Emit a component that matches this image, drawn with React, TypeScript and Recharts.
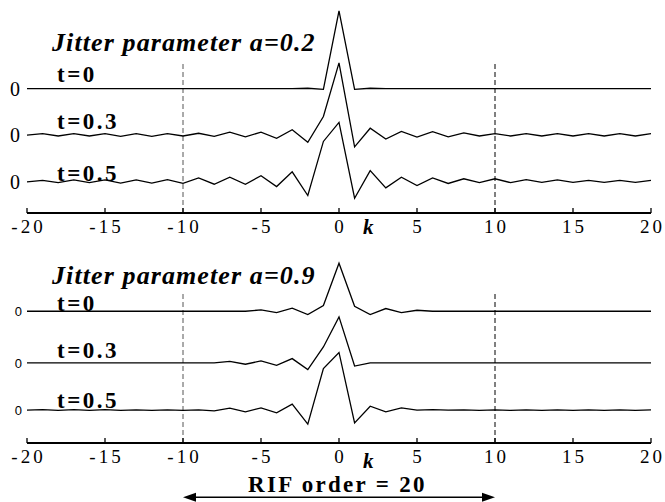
import { LineChart, Line, XAxis, YAxis, ReferenceLine } from 'recharts';

const ks = [-20, -19, -18, -17, -16, -15, -14, -13, -12, -11, -10, -9, -8, -7, -6, -5, -4, -3, -2, -1, 0,
  1, 2, 3, 4, 5, 6, 7, 8, 9, 10, 11, 12, 13, 14, 15, 16, 17, 18, 19, 20];
const xTicks = [-20, -15, -10, -5, 0, 5, 10, 15, 20];

// jitter a = 0.2
const a02t0 = [0, 0, 0, 0, 0, 0, 0, 0, 0, 0, 0, 0, 0, 0, 0, 0, 0, 0, 0.004, -0.01, 1.0,
  -0.01, 0.004, 0, 0, 0, 0, 0, 0, 0, 0, 0, 0, 0, 0, 0, 0, 0, 0, 0, 0];
const a02t03 = [0, 0.02, -0.01, 0.02, -0.01, 0.02, -0.015, 0.02, -0.015, 0.02, -0.01, 0.025, -0.015, 0.04, -0.02, 0.04, -0.04, 0.07, -0.09, 0.24, 0.93,
  -0.15, 0.09, -0.05, 0.05, -0.025, 0.045, -0.02, 0.03, -0.01, 0.02, -0.01, 0.02, -0.01, 0.02, -0.01, 0.02, -0.01, 0.02, -0.01, 0.02];
const a02t05 = [0, 0.02, -0.01, 0.025, -0.01, 0.025, -0.015, 0.025, -0.015, 0.03, -0.02, 0.05, -0.03, 0.06, -0.03, 0.08, -0.06, 0.13, -0.175, 0.52, 0.765,
  -0.21, 0.145, -0.077, 0.06, -0.047, 0.05, -0.02, 0.04, -0.01, 0.04, -0.01, 0.03, -0.005, 0.025, -0.005, 0.02, -0.005, 0.02, -0.005, 0.02];

// jitter a = 0.9
const a09t0 = [0, 0, 0, 0, 0, 0, 0, 0, 0, 0, 0, 0, 0, 0, 0, 0.017, -0.017, 0.039, -0.043, 0.074, 0.62,
  0.065, -0.043, 0.035, -0.017, 0.013, 0, 0, 0, 0, 0, 0, 0, 0, 0, 0, 0, 0, 0, 0, 0];
const a09t03 = [0, 0, 0, 0, 0, 0, 0, 0, 0, 0, 0, 0, 0, 0.02, -0.017, 0.026, -0.03, 0.056, -0.086, 0.206, 0.594,
  -0.04, 0, 0, 0, 0, 0, 0, 0, 0, 0, 0, 0, 0, 0, 0, 0, 0, 0, 0, 0];
const a09t05 = [0.005, 0.01, 0, 0.01, 0, 0.01, 0, 0.008, 0, 0.008, 0, 0.008, -0.005, 0.03, -0.017, 0.034, -0.03, 0.081, -0.177, 0.54, 0.748,
  -0.16, 0.055, -0.017, 0.034, 0.004, 0.01, 0.003, 0.008, 0, 0.008, 0, 0.007, 0, 0.007, 0, 0.007, 0, 0.007, 0, 0.007];

const topOffsets = [0, -0.6, -1.2];
const bottomOffsets = [0, -0.667, -1.28];

const buildRows = (s: number[][], off: number[]) =>
  ks.map((k, i) => ({ k, a: s[0][i] + off[0], b: s[1][i] + off[1], c: s[2][i] + off[2] }));

const topData = buildRows([a02t0, a02t03, a02t05], topOffsets);
const bottomData = buildRows([a09t0, a09t03, a09t05], bottomOffsets);

const serif = '"Liberation Serif", "Times New Roman", serif';

const XTick = (props: any) => {
  const { x, y, payload } = props;
  return (
    <g>
      <line x1={x} x2={x} y1={y} y2={y - 5} stroke="#000" strokeWidth={1.3} />
      <text x={x + 1.5} y={y + 20} textAnchor="middle" fontFamily={serif} fontSize={19} letterSpacing={3} fill="#000">
        {payload.value}
      </text>
    </g>
  );
};

const Arrow = (p: any) => {
  const { x1, y1, x2, y2 } = p;
  return (
    <g>
      <line x1={x1 + 8} y1={y1} x2={x2 - 8} y2={y2} stroke="#000" strokeWidth={1.5} />
      <polygon points={`${x1},${y1} ${x1 + 13},${y1 - 4.5} ${x1 + 13},${y1 + 4.5}`} fill="#000" />
      <polygon points={`${x2},${y2} ${x2 - 13},${y2 - 4.5} ${x2 - 13},${y2 + 4.5}`} fill="#000" />
    </g>
  );
};

const label = (text: string, left: number, cy: number, style: any) => (
  <div
    style={{
      position: 'absolute',
      left,
      top: cy,
      transform: 'translateY(-50%)',
      lineHeight: 0.8,
      whiteSpace: 'nowrap',
      color: '#000',
      ...style,
    }}
  >
    {text}
  </div>
);

const titleStyle = { fontFamily: serif, fontWeight: 'bold', fontStyle: 'italic', fontSize: 26, letterSpacing: 1.1 };
const tStyle = { fontFamily: serif, fontWeight: 'bold', fontSize: 23, letterSpacing: 2.5 };
const kStyle = { fontFamily: serif, fontWeight: 'bold', fontStyle: 'italic', fontSize: 21 };

export default function App() {
  const lineProps = { type: 'linear' as const, stroke: '#000', strokeWidth: 1.3, dot: false, isAnimationActive: false };
  return (
    <div style={{ position: 'absolute', left: 0, top: 0, width: 665, height: 502, background: '#fff' }}>
      <div style={{ position: 'absolute', left: 0, top: 0 }}>
        <LineChart width={665} height={245} data={topData} margin={{ top: 3, right: 14, bottom: 2, left: 0 }}>
          <XAxis
            dataKey="k"
            type="number"
            domain={[-20, 20]}
            ticks={xTicks}
            interval={0}
            height={30}
            axisLine={{ stroke: '#000', strokeWidth: 2 }}
            tickLine={false}
            tickSize={0}
            tickMargin={0}
            tick={<XTick />}
          />
          <YAxis
            type="number"
            domain={[-1.6, 1.1]}
            ticks={topOffsets}
            tickFormatter={() => '0'}
            axisLine={false}
            tickLine={false}
            tickSize={0}
            tickMargin={7}
            width={27}
            interval={0}
            tick={{ fill: '#000', fontFamily: serif, fontSize: 20 }}
          />
          <ReferenceLine segment={[{ x: -10, y: -1.6 }, { x: -10, y: 0.33 }]} stroke="#555" strokeDasharray="5 3" />
          <ReferenceLine segment={[{ x: 10, y: -1.6 }, { x: 10, y: 0.33 }]} stroke="#000" strokeDasharray="5 3" />
          <Line dataKey="a" {...lineProps} />
          <Line dataKey="b" {...lineProps} />
          <Line dataKey="c" {...lineProps} />
        </LineChart>
      </div>
      <div style={{ position: 'absolute', left: 0, top: 250 }}>
        <LineChart width={665} height={252} data={bottomData} margin={{ top: 7, right: 14, bottom: 29, left: 0 }}>
          <XAxis
            dataKey="k"
            type="number"
            domain={[-20, 20]}
            ticks={xTicks}
            interval={0}
            height={30}
            axisLine={{ stroke: '#000', strokeWidth: 2 }}
            tickLine={false}
            tickSize={0}
            tickMargin={0}
            tick={<XTick />}
          />
          <YAxis
            type="number"
            domain={[-1.7, 0.7]}
            ticks={bottomOffsets}
            tickFormatter={() => '0'}
            axisLine={false}
            tickLine={false}
            tickSize={0}
            tickMargin={5}
            width={27}
            interval={0}
            tick={{ fill: '#000', fontFamily: '"Liberation Sans", Arial, sans-serif', fontSize: 13 }}
          />
          <ReferenceLine segment={[{ x: -10, y: -1.7 }, { x: -10, y: 0.25 }]} stroke="#555" strokeDasharray="5 3" />
          <ReferenceLine segment={[{ x: 10, y: -1.7 }, { x: 10, y: 0.25 }]} stroke="#000" strokeDasharray="5 3" />
          <ReferenceLine
            segment={[{ x: -10, y: -2.4 }, { x: 10, y: -2.4 }]}
            ifOverflow="visible"
            shape={<Arrow />}
          />
          <Line dataKey="a" {...lineProps} />
          <Line dataKey="b" {...lineProps} />
          <Line dataKey="c" {...lineProps} />
        </LineChart>
      </div>

      {label('Jitter parameter a=0.2', 52, 43, titleStyle)}
      {label('t=0', 57, 75, tStyle)}
      {label('t=0.3', 57, 122, tStyle)}
      {label('t=0.5', 57, 174, tStyle)}
      {label('k', 363, 227, kStyle)}

      {label('Jitter parameter a=0.9', 52, 276, titleStyle)}
      {label('t=0', 57, 304, tStyle)}
      {label('t=0.3', 57, 351, tStyle)}
      {label('t=0.5', 57, 401, tStyle)}
      {label('k', 363, 461, kStyle)}
      {label('RIF order = 20', 248, 485, { fontFamily: serif, fontWeight: 'bold', fontSize: 23, letterSpacing: 2.3 })}
    </div>
  );
}
